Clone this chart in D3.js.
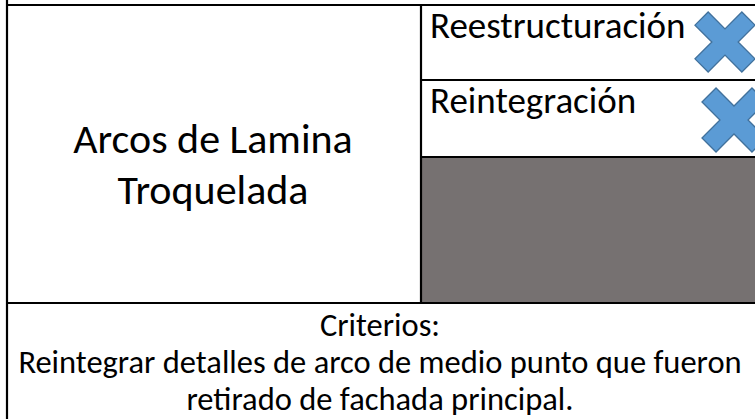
<!DOCTYPE html>
<html><head><meta charset="utf-8">
<script src="https://cdn.jsdelivr.net/npm/d3@7"></script>
<style>html,body{margin:0;padding:0;background:#fff;overflow:hidden}</style>
</head><body><svg id="c" width="755" height="419"></svg>
<script>
// ---- data ----
const titleLines = ["Arcos de Lamina", "Troquelada"];
const actions = ["Reestructuración", "Reintegración", ""];
const actionMarked = [true, true, false];
const actionFilled = [false, false, true];
const criteriaLines = ["Criterios:", "Reintegrar detalles de arco de medio punto que fueron", "retirado de fachada principal."];

// ---- layout ----
const W = 755, H = 419;
const svg = d3.select("#c");
const font = "Carlito, Calibri, Lato, 'Open Sans', sans-serif";
const xL = 7, xM = 421, xR = 762;
const yTop = 5, yBot = 303;
const rowEdges = [5, 80, 157, 303];
const rowY = i => rowEdges[i];

// gray filled cells
actions.forEach((a, i) => {
  if (actionFilled[i]) {
    svg.append("rect").attr("x", xM).attr("y", rowY(i)).attr("width", xR - xM).attr("height", rowY(i + 1) - rowY(i))
      .attr("fill", "#767171");
  }
});

// crosses
const crossCenters = [[725, 42, 60], [734, 120, 64]];
function crossPath(cx, cy, s) {
  const h = s / 2, t = s * 0.31, e = t / (2 * Math.SQRT2), k = t / Math.SQRT2;
  const pts = [
    [-h, -h + 2 * e], [-h + 2 * e, -h], [0, -k], [h - 2 * e, -h], [h, -h + 2 * e], [k, 0],
    [h, h - 2 * e], [h - 2 * e, h], [0, k], [-h + 2 * e, h], [-h, h - 2 * e], [-k, 0]
  ];
  return d3.line()(pts.map(p => [cx + p[0], cy + p[1]])) + "Z";
}
actions.forEach((a, i) => {
  if (actionMarked[i]) {
    const c = crossCenters[i];
    svg.append("path").attr("d", crossPath(c[0], c[1], c[2])).attr("fill", "#5B9BD5")
      .attr("stroke", "#41719C").attr("stroke-width", 1.3).attr("stroke-linejoin", "miter");
  }
});

// grid lines
const lines = [
  [xL, yTop, xR, yTop],
  [xL, 0, xL, H],
  [xM, yTop, xM, yBot],
  [xM, rowEdges[1], xR, rowEdges[1]],
  [xM, rowEdges[2], xR, rowEdges[2]],
  [xL, yBot, xR, yBot]
];
svg.selectAll("line.g").data(lines).join("line").attr("class", "g")
  .attr("x1", d => d[0]).attr("y1", d => d[1]).attr("x2", d => d[2]).attr("y2", d => d[3])
  .attr("stroke", "#000").attr("stroke-width", 2.2);

// title
svg.selectAll("text.t").data(titleLines).join("text").attr("class", "t")
  .attr("x", 213).attr("y", (d, i) => 153 + i * 51)
  .attr("text-anchor", "middle").attr("font-family", font).attr("font-size", 42).attr("fill", "#000")
  .text(d => d);

// row labels
svg.selectAll("text.a").data(actions.filter(a => a)).join("text").attr("class", "a")
  .attr("x", 430).attr("y", (d, i) => rowY(i) + 33)
  .attr("font-family", font).attr("font-size", 37).attr("fill", "#000")
  .text(d => d);

// criteria
svg.selectAll("text.c").data(criteriaLines).join("text").attr("class", "c")
  .attr("x", 380).attr("y", (d, i) => 336 + i * 37)
  .attr("text-anchor", "middle").attr("font-family", font).attr("font-size", 32.5).attr("fill", "#000")
  .text(d => d);
</script></body></html>
